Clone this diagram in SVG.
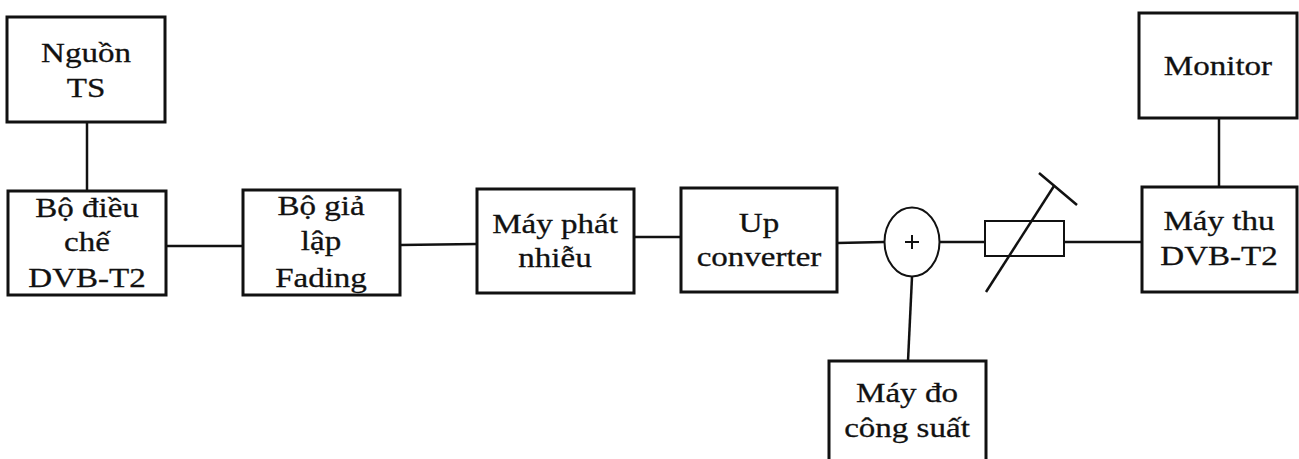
<svg xmlns="http://www.w3.org/2000/svg" width="1299" height="459" viewBox="0 0 1299 459">
<style>
.box{fill:#fff;stroke:#111;stroke-width:3}
.ln{fill:none;stroke:#111;stroke-width:2.5}
.thin{fill:#fff;stroke:#111;stroke-width:2}
text{font-family:"Liberation Serif","Times New Roman",serif;font-size:28px;fill:#111;text-anchor:middle;stroke:#111;stroke-width:0.3}
</style>
<rect width="1299" height="459" fill="#fff"/>
<g id="connectors">
<line class="ln" x1="87" y1="123" x2="87" y2="191"/>
<line class="ln" x1="166" y1="246" x2="243" y2="246"/>
<line class="ln" x1="400" y1="245" x2="477" y2="244"/>
<line class="ln" x1="634" y1="237" x2="681" y2="237"/>
<line class="ln" x1="837" y1="243" x2="884" y2="242"/>
<line class="ln" x1="939" y1="242" x2="985" y2="242"/>
<line class="ln" x1="1064" y1="242" x2="1142" y2="242"/>
<line class="ln" x1="1219" y1="118" x2="1219" y2="187"/>
<line class="ln" x1="912" y1="277" x2="908" y2="361"/>
</g>
<g id="nguon-ts">
<rect class="box" x="7" y="17" width="158" height="105"/>
<text transform="translate(86,62) scale(1.18,1)">Nguồn</text>
<text transform="translate(86,97) scale(1.18,1)">TS</text>
</g>
<g id="bo-dieu-che">
<rect class="box" x="8" y="191" width="158" height="104"/>
<text transform="translate(87,217) scale(1.18,1)">Bộ điều</text>
<text transform="translate(87,251) scale(1.18,1)">chế</text>
<text transform="translate(87,287) scale(1.18,1)">DVB-T2</text>
</g>
<g id="bo-gia-lap">
<rect class="box" x="243" y="190" width="157" height="105"/>
<text transform="translate(321,215) scale(1.18,1)">Bộ giả</text>
<text transform="translate(321,250) scale(1.18,1)">lập</text>
<text transform="translate(321,287) scale(1.18,1)">Fading</text>
</g>
<g id="may-phat-nhieu">
<rect class="box" x="477" y="189" width="157" height="104"/>
<text transform="translate(555,233) scale(1.18,1)">Máy phát</text>
<text transform="translate(555,267) scale(1.18,1)">nhiễu</text>
</g>
<g id="up-converter">
<rect class="box" x="681" y="188" width="156" height="104"/>
<text transform="translate(759,232) scale(1.18,1)">Up</text>
<text transform="translate(759,266) scale(1.18,1)">converter</text>
</g>
<g id="combiner">
<ellipse class="thin" cx="912" cy="242" rx="27.5" ry="34.5"/>
<line class="thin" x1="905" y1="242" x2="919" y2="242" stroke-width="1.5"/>
<line class="thin" x1="912" y1="235" x2="912" y2="249" stroke-width="1.5"/>
</g>
<g id="attenuator">
<rect class="thin" x="985" y="221" width="79" height="35"/>
<line class="ln" x1="986" y1="292" x2="1054" y2="186" stroke-width="3"/>
<line class="ln" x1="1039" y1="173" x2="1077" y2="205" stroke-width="3"/>
</g>
<g id="monitor">
<rect class="box" x="1139" y="13" width="158" height="105"/>
<text transform="translate(1218,75) scale(1.18,1)">Monitor</text>
</g>
<g id="may-thu">
<rect class="box" x="1142" y="187" width="155" height="105"/>
<text transform="translate(1219,230) scale(1.18,1)">Máy thu</text>
<text transform="translate(1219,265) scale(1.18,1)">DVB-T2</text>
</g>
<g id="may-do-cong-suat">
<rect class="box" x="829" y="361" width="157" height="110"/>
<text transform="translate(907,402) scale(1.18,1)">Máy đo</text>
<text transform="translate(907,437) scale(1.18,1)">công suất</text>
</g>
</svg>
